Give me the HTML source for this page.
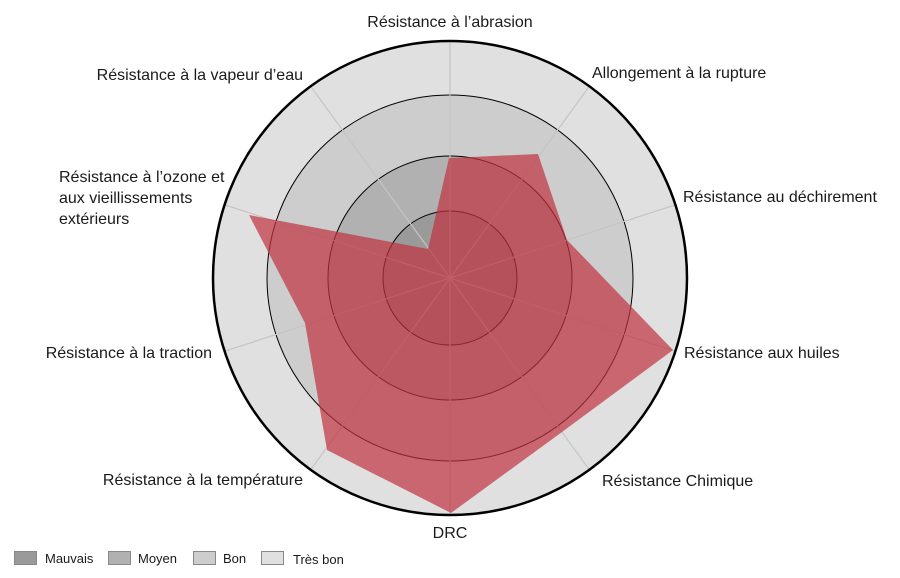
<!DOCTYPE html>
<html><head><meta charset="utf-8"><style>
html,body{margin:0;padding:0;background:#fff;}
svg{display:block;font-family:"Liberation Sans",sans-serif;}
text{font-size:16px;fill:#1a1a1a;}
.lg{font-size:13px;}
</style></head><body>
<svg width="900" height="578" viewBox="0 0 900 578">
<circle cx="450" cy="278" r="237" fill="#e0e0e0"/>
<circle cx="450" cy="278" r="183" fill="#cdcdcd" stroke="#000" stroke-width="1"/>
<circle cx="450" cy="278" r="122" fill="#b1b1b1" stroke="#000" stroke-width="1"/>
<circle cx="450" cy="278" r="67" fill="#9a9a9a" stroke="#000" stroke-width="1"/>
<g stroke="#c4c4c4" stroke-width="1.2">
<line x1="450" y1="278" x2="450" y2="41"/>
<line x1="450" y1="278" x2="589.3" y2="86.3"/>
<line x1="450" y1="278" x2="675.4" y2="204.8"/>
<line x1="450" y1="278" x2="675.4" y2="351.2"/>
<line x1="450" y1="278" x2="589.3" y2="469.7"/>
<line x1="450" y1="278" x2="450" y2="515"/>
<line x1="450" y1="278" x2="310.7" y2="469.7"/>
<line x1="450" y1="278" x2="224.6" y2="351.2"/>
<line x1="450" y1="278" x2="224.6" y2="204.8"/>
<line x1="450" y1="278" x2="310.7" y2="86.3"/>
</g>
<polygon points="449,158 538,154 567,240 673,350 562,432 451,513 327,450 305,323 249,215 428,249" fill="#c0323f" fill-opacity="0.7"/>
<circle cx="450" cy="278" r="237" fill="none" stroke="#000" stroke-width="2.5"/>
<text x="450" y="27" text-anchor="middle">Résistance à l’abrasion</text>
<text x="592" y="78">Allongement à la rupture</text>
<text x="683" y="202">Résistance au déchirement</text>
<text x="684" y="358">Résistance aux huiles</text>
<text x="602" y="486">Résistance Chimique</text>
<text x="450" y="538" text-anchor="middle">DRC</text>
<text x="303" y="485" text-anchor="end">Résistance à la température</text>
<text x="212" y="358" text-anchor="end">Résistance à la traction</text>
<text x="59" y="182">Résistance à l’ozone et</text>
<text x="59" y="203">aux vieillissements</text>
<text x="59" y="224">extérieurs</text>
<text x="303" y="80" text-anchor="end">Résistance à la vapeur d’eau</text>
<g stroke="#888" stroke-width="1">
<rect x="14.5" y="551.5" width="22" height="13" fill="#9a9a9a"/>
<rect x="108.5" y="551.5" width="22" height="13" fill="#b1b1b1"/>
<rect x="193.5" y="551.5" width="22" height="13" fill="#cdcdcd"/>
<rect x="261.5" y="551.5" width="22" height="13" fill="#e0e0e0"/>
</g>
<text class="lg" x="45" y="563">Mauvais</text>
<text class="lg" x="138" y="563">Moyen</text>
<text class="lg" x="223" y="563">Bon</text>
<text class="lg" x="293" y="564">Très bon</text>
</svg>
</body></html>
